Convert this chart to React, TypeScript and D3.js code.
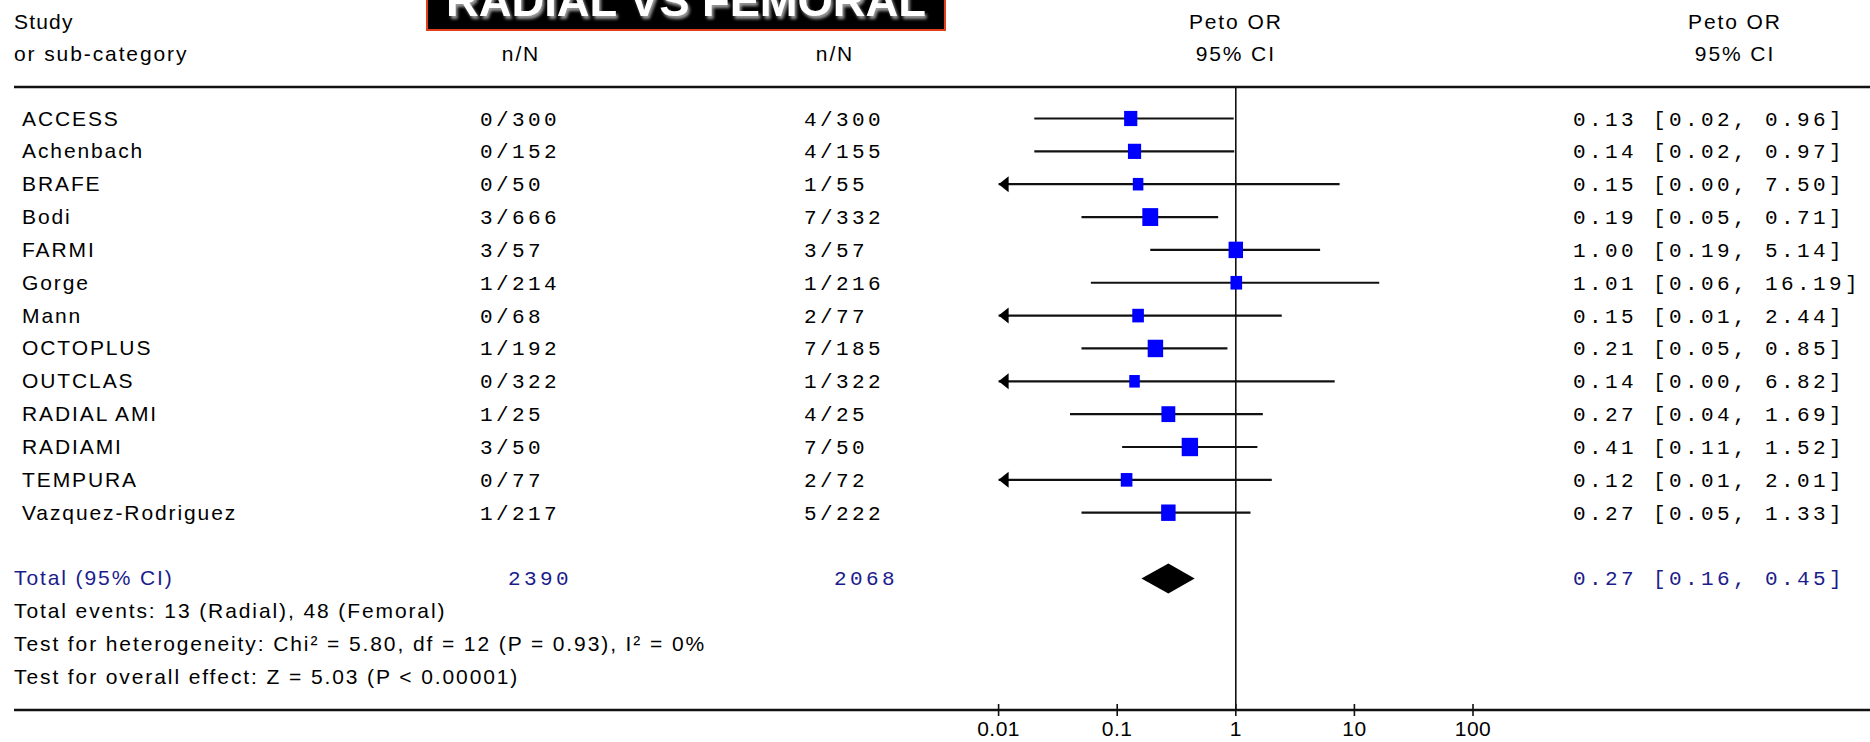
import React from "react";
import * as d3 from "d3";

const studies = ["ACCESS","Achenbach","BRAFE","Bodi","FARMI","Gorge","Mann","OCTOPLUS","OUTCLAS","RADIAL AMI","RADIAMI","TEMPURA","Vazquez-Rodriguez"];
const radialEvents = [0,0,0,3,3,1,0,1,0,1,3,0,1];
const radialTotals = [300,152,50,666,57,214,68,192,322,25,50,77,217];
const femoralEvents = [4,4,1,7,3,1,2,7,1,4,7,2,5];
const femoralTotals = [300,155,55,332,57,216,77,185,322,25,50,72,222];
const oddsRatios = [0.13,0.14,0.15,0.19,1.00,1.01,0.15,0.21,0.14,0.27,0.41,0.12,0.27];
const lowerCI = [0.02,0.02,0.00,0.05,0.19,0.06,0.01,0.05,0.00,0.04,0.11,0.01,0.05];
const upperCI = [0.96,0.97,7.50,0.71,5.14,16.19,2.44,0.85,6.82,1.69,1.52,2.01,1.33];
const weights = [6.6,6.6,1.7,14.7,10.0,3.3,3.3,13.3,1.7,8.3,16.6,3.3,10.0];
const totalRadial = 2390;
const totalFemoral = 2068;
const totalOR = [0.27, 0.16, 0.45];
const axisTicks = [0.01, 0.1, 1, 10, 100];
const axisTickLabels = ["0.01", "0.1", "1", "10", "100"];
const footnotes = [
  "Total events: 13 (Radial), 48 (Femoral)",
  "Test for heterogeneity: Chi\u00B2 = 5.80, df = 12 (P = 0.93), I\u00B2 = 0%",
  "Test for overall effect: Z = 5.03 (P < 0.00001)",
];

const W = 1870, H = 742;
const SANS = "'Liberation Sans', Arial, sans-serif";
const MONO = "'Liberation Mono', 'Courier New', monospace";
const NAVY = "#1c1c8c";

export default function App() {
  const x = d3.scaleLog().domain([0.01, 100]).range([998.6, 1473]);
  const row = d3.scaleLinear().domain([0, 1]).range([118.5, 151.35]);
  const size = d3.scaleLinear().domain([0, 1]).range([7.8, 9.9]);
  const fmt = d3.format(".2f");
  const headY = 87, axisY = 710;
  const sansText = { fontFamily: SANS, fontSize: 21, letterSpacing: 1.9 } as any;
  const monoText = { fontFamily: MONO, fontSize: 21, letterSpacing: 3.4 } as any;
  const x1 = x(1);
  const xMin = x(0.01);

  return (
    <svg width={W} height={H} style={{ position: "absolute", left: 0, top: 0, background: "#fff" }}>
      <defs>
        <filter id="shadow" x="-10%" y="-50%" width="120%" height="200%">
          <feDropShadow dx="2" dy="3" stdDeviation="1.8" floodColor="#9a9a9a" floodOpacity="1" />
        </filter>
      </defs>
      <rect x={0} y={0} width={W} height={H} fill="#fff" />

      {/* title box */}
      <rect x={427} y={-20} width={518} height={50} fill="#000" stroke="#e2401c" strokeWidth={2} />
      <text x={686} y={16} textAnchor="middle" fontFamily={SANS} fontWeight="bold" fontSize={45}
        fill="#fff" textLength={480} lengthAdjust="spacingAndGlyphs" filter="url(#shadow)">RADIAL VS FEMORAL</text>

      {/* headers */}
      <text x={14} y={29} {...sansText} letterSpacing={1.2}>Study</text>
      <text x={14} y={61} {...sansText}>or sub-category</text>
      <text x={521} y={61} textAnchor="middle" {...sansText}>n/N</text>
      <text x={835} y={61} textAnchor="middle" {...sansText}>n/N</text>
      <text x={x1} y={29} textAnchor="middle" {...sansText}>Peto OR</text>
      <text x={x1} y={61} textAnchor="middle" {...sansText}>95% CI</text>
      <text x={1735} y={29} textAnchor="middle" {...sansText}>Peto OR</text>
      <text x={1735} y={61} textAnchor="middle" {...sansText}>95% CI</text>

      <line x1={14} x2={W} y1={headY} y2={headY} stroke="#111" strokeWidth={2.5} />
      <line x1={14} x2={W} y1={axisY} y2={axisY} stroke="#111" strokeWidth={2.5} />
      <line x1={x1} x2={x1} y1={headY} y2={axisY} stroke="#111" strokeWidth={1.6} />

      {axisTicks.map((t, i) => (
        <g key={"t" + i}>
          <line x1={x(t)} x2={x(t)} y1={axisY - 6} y2={axisY + 6} stroke="#111" strokeWidth={1.6} />
          <text x={x(t)} y={736} textAnchor="middle" {...sansText} letterSpacing={0.5}>{axisTickLabels[i]}</text>
        </g>
      ))}

      {studies.map((s, i) => {
        const cy = row(i);
        const lo = lowerCI[i];
        const arrow = lo <= 0.01;
        const lx = arrow ? xMin : x(lo);
        const hx = x(upperCI[i]);
        const sz = size(Math.sqrt(weights[i]));
        const ox = x(oddsRatios[i]);
        return (
          <g key={s}>
            <text x={22} y={cy + 7} {...sansText}>{s}</text>
            <text x={480} y={cy + 7} {...monoText}>{radialEvents[i] + "/" + radialTotals[i]}</text>
            <text x={804} y={cy + 7} {...monoText}>{femoralEvents[i] + "/" + femoralTotals[i]}</text>
            <line x1={lx} x2={hx} y1={cy} y2={cy} stroke="#111" strokeWidth={2.2} />
            {arrow && (
              <path d={`M${xMin},${cy} L${xMin + 10},${cy - 8} L${xMin + 10},${cy + 8} Z`} fill="#000" />
            )}
            <rect x={ox - sz / 2} y={cy - sz / 2 - 1} width={sz} height={sz + 2} fill="#0000ff" />
            <text x={1573} y={cy + 7} {...monoText}>
              {`${fmt(oddsRatios[i])} [${fmt(lowerCI[i])}, ${fmt(upperCI[i])}]`}
            </text>
          </g>
        );
      })}

      {(() => {
        const cy = row(14);
        const [o, l, h] = totalOR;
        return (
          <g>
            <text x={14} y={cy + 7} {...sansText} fill={NAVY}>Total (95% CI)</text>
            <text x={508} y={cy + 7} {...monoText} fill={NAVY}>{String(totalRadial)}</text>
            <text x={834} y={cy + 7} {...monoText} fill={NAVY}>{String(totalFemoral)}</text>
            <path d={`M${x(l)},${cy} L${x(o)},${cy - 15} L${x(h)},${cy} L${x(o)},${cy + 15} Z`} fill="#000" />
            <text x={1573} y={cy + 7} {...monoText} fill={NAVY}>{`${fmt(o)} [${fmt(l)}, ${fmt(h)}]`}</text>
          </g>
        );
      })()}

      {footnotes.map((f, i) => (
        <text key={"f" + i} x={14} y={row(15 + i) + 7} {...sansText}>{f}</text>
      ))}
    </svg>
  );
}
